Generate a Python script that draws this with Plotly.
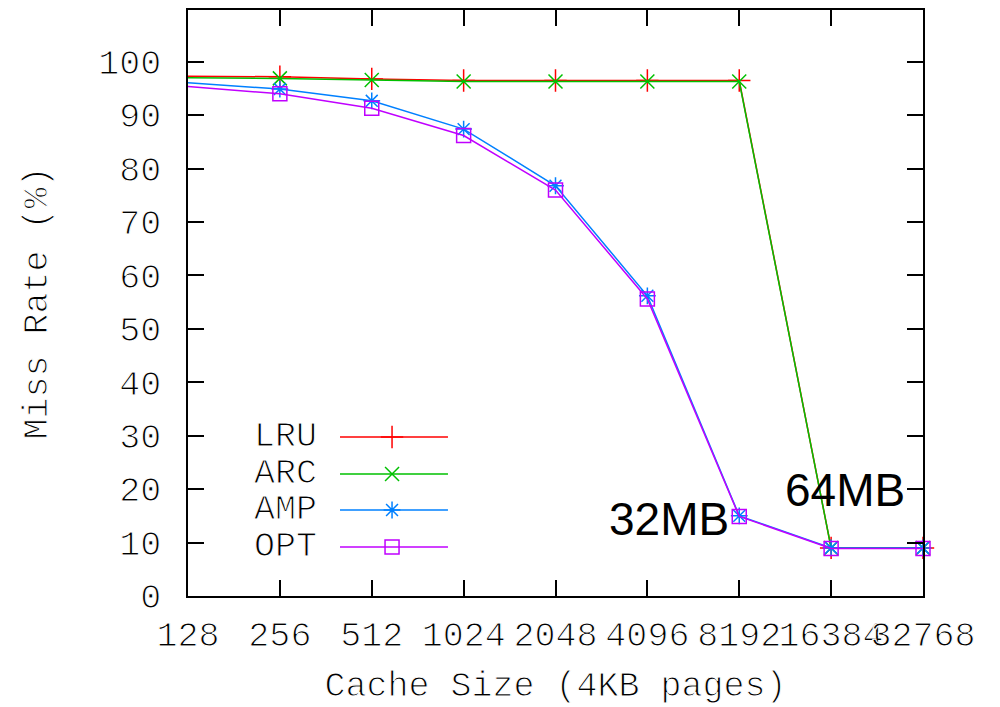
import plotly.graph_objects as go
import math

cache_sizes = [128, 256, 512, 1024, 2048, 4096, 8192, 16384, 32768]
tick_labels = ["128", "256", "512", "1024", "2048", "4096", "8192", "16384", "32768"]
lru = [97.3, 97.2, 96.8, 96.5, 96.5, 96.5, 96.5, 9.0, 9.0]
arc = [97.0, 96.9, 96.6, 96.3, 96.3, 96.3, 96.3, 9.0, 9.0]
amp = [96.1, 94.9, 92.7, 87.4, 76.8, 56.2, 15.0, 9.0, 9.0]
opt = [95.4, 94.0, 91.3, 86.2, 76.0, 55.6, 14.9, 8.9, 8.9]
series_names = ["LRU", "ARC", "AMP", "OPT"]
series_values = [lru, arc, amp, opt]
colors = ["#ff0000", "#00c000", "#0080ff", "#c000ff"]
symbols = ["cross-thin", "x-thin", "asterisk", "square-open"]
msizes = [16, 14, 14, 14]

MONO = "Liberation Mono"
FS = 35

fig = go.Figure()
for name, vals, c, s, ms in zip(series_names, series_values, colors, symbols, msizes):
    fig.add_trace(go.Scatter(
        x=cache_sizes, y=vals, name=name, mode="lines+markers",
        line=dict(color=c, width=1.5), cliponaxis=False,
        marker=dict(symbol=s, size=ms, color=c, line=dict(color=c, width=1.5)),
        showlegend=False, xaxis="x", yaxis="y"))

# custom legend (text left of sample, gnuplot style) on an overlay axis
leg_y = [0.2713, 0.2082, 0.1468, 0.0836]
for name, c, s, ms, ly in zip(series_names, colors, symbols, msizes, leg_y):
    fig.add_trace(go.Scatter(x=[0.2068, 0.3537], y=[ly, ly], mode="lines",
                             line=dict(color=c, width=1.5), showlegend=False,
                             xaxis="x2", yaxis="y2", hoverinfo="skip"))
    fig.add_trace(go.Scatter(x=[0.2776], y=[ly], mode="markers",
                             marker=dict(symbol=s, size=ms, color=c, line=dict(color=c, width=1.5)),
                             showlegend=False, xaxis="x2", yaxis="y2", hoverinfo="skip"))
    fig.add_annotation(text=name, xref="paper", yref="paper", x=0.178, y=ly,
                       xanchor="right", yanchor="middle", showarrow=False,
                       font=dict(family=MONO, size=FS, color="black"))

fig.add_annotation(text="32MB", x=math.log10(8192), y=15.0, xref="x", yref="y",
                   xanchor="right", yanchor="middle", xshift=-8, yshift=-3, showarrow=False,
                   font=dict(family="Liberation Sans, Arial", size=46, color="black"))
fig.add_annotation(text="64MB", x=math.log10(16384), y=9.0, xref="x", yref="y",
                   xanchor="center", yanchor="middle", xshift=14, yshift=58, showarrow=False,
                   font=dict(family="Liberation Sans, Arial", size=46, color="black"))

axis_common = dict(showline=True, linecolor="black", linewidth=1.5, mirror="ticks",
                   ticks="inside", ticklen=16, tickwidth=1.5, tickcolor="black",
                   showgrid=False, zeroline=False, automargin=False,
                   tickfont=dict(family=MONO, size=FS, color="black"))

fig.update_layout(
    width=1000, height=707,
    margin=dict(l=188, r=77, t=10, b=111),
    paper_bgcolor="white", plot_bgcolor="white",
    xaxis=dict(type="log", range=[math.log10(128), math.log10(32768)],
               tickvals=cache_sizes, ticktext=tick_labels, ticklabelstandoff=6,
               tickangle=0,
               title=dict(text="Cache Size (4KB pages)", standoff=22,
                          font=dict(family=MONO, size=FS, color="black")),
               **axis_common),
    yaxis=dict(range=[0, 109.7], tickvals=list(range(0, 101, 10)), ticklabelstandoff=18,
               title=dict(text="Miss Rate (%)", standoff=40,
                          font=dict(family=MONO, size=FS, color="black")),
               **axis_common),
    xaxis2=dict(overlaying="x", range=[0, 1], visible=False, fixedrange=True),
    yaxis2=dict(overlaying="y", range=[0, 1], visible=False, fixedrange=True),
)

post = """
document.body.style.margin='0';
var gd = document.getElementById('{plot_id}');
function thin(){
  gd.querySelectorAll('text').forEach(function(t){
    var ff = (t.style.fontFamily || '');
    if (ff.indexOf('Mono') >= 0) {
      t.style.stroke = 'white';
      t.style.strokeWidth = '1.1px';
    }
  });
}
thin();
gd.on('plotly_afterplot', thin);
"""
fig.write_html("out.html", post_script=post, config={"displayModeBar": False})
